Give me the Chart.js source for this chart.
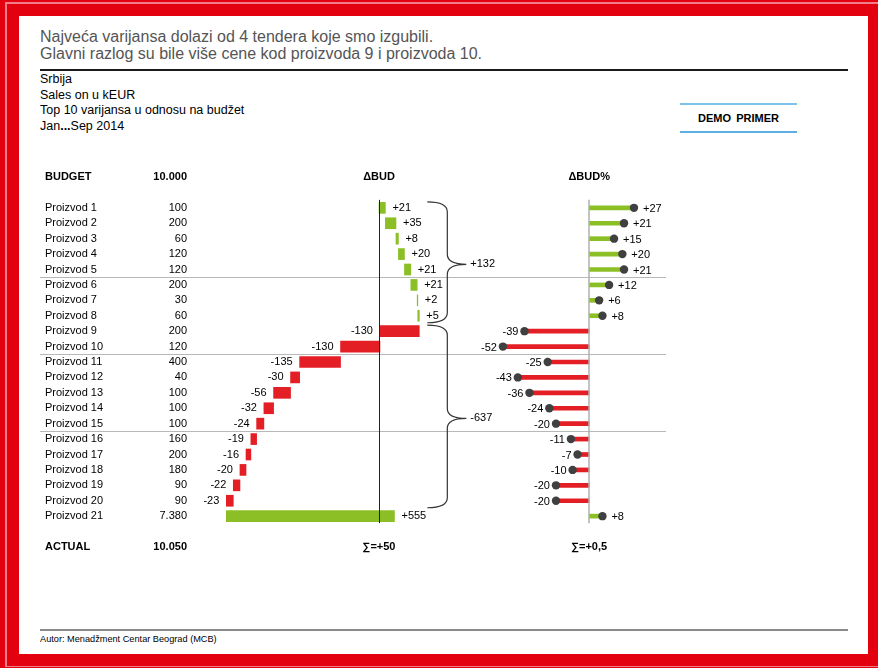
<!DOCTYPE html>
<html><head><meta charset="utf-8">
<script src="https://cdn.jsdelivr.net/npm/chart.js@4.4.1/dist/chart.umd.min.js"></script>
<style>
html,body{margin:0;padding:0;width:878px;height:668px;overflow:hidden;background:#e3000f;font-family:"Liberation Sans",Arial,sans-serif;}
#pink{position:absolute;left:5px;top:2px;right:0;bottom:1px;border-left:2px solid #f27d8a;border-top:2px solid #f27d8a;border-bottom:1px solid #f27d8a;}
#panel{position:absolute;left:19px;top:16px;width:849px;height:638px;background:#fff;}
.t{position:absolute;white-space:nowrap;}
#title{left:40px;top:29px;font-size:16px;color:#555;line-height:16.5px;}
#rule{position:absolute;left:40px;top:69px;width:808px;height:2px;background:#1a1a1a;}
#sub{left:40px;top:72px;font-size:12.5px;line-height:15.5px;color:#000;}
#demo{position:absolute;left:680px;top:103px;width:117px;height:26px;border-top:2px solid #7cc3ea;border-bottom:2px solid #5fb0e0;font-weight:bold;font-size:11px;text-align:center;line-height:26px;word-spacing:2px;}
#frule{position:absolute;left:40px;top:629px;width:808px;height:2px;background:#8a8a8a;}
#foot{left:40px;top:634px;font-size:9.2px;}
#wrap{position:absolute;left:0;top:0;width:878px;height:668px;}
</style></head>
<body>
<div id="pink"></div>
<div id="panel"></div>
<div class="t" id="title">Najveća varijansa dolazi od 4 tendera koje smo izgubili.<br>Glavni razlog su bile više cene kod proizvoda 9 i proizvoda 10.</div>
<div id="rule"></div>
<div class="t" id="sub">Srbija<br>Sales on u kEUR<br>Top 10 varijansa u odnosu na budžet<br>Jan<b>...</b>Sep 2014</div>
<div id="demo">DEMO PRIMER</div>
<div id="frule"></div>
<div class="t" id="foot">Autor: Menadžment Centar Beograd (MCB)</div>
<div id="wrap"><canvas id="c" width="878" height="668"></canvas></div>
<script>
// ---- data ----
const products = ['Proizvod 1','Proizvod 2','Proizvod 3','Proizvod 4','Proizvod 5','Proizvod 6','Proizvod 7','Proizvod 8','Proizvod 9','Proizvod 10','Proizvod 11','Proizvod 12','Proizvod 13','Proizvod 14','Proizvod 15','Proizvod 16','Proizvod 17','Proizvod 18','Proizvod 19','Proizvod 20','Proizvod 21'];
const budget = [100,200,60,120,120,200,30,60,200,120,400,40,100,100,100,160,200,180,90,90,7380];
const dBud = [21,35,8,20,21,21,2,5,-130,-130,-135,-30,-56,-32,-24,-19,-16,-20,-22,-23,555];
const dBudPct = [27,21,15,20,21,12,6,8,-39,-52,-25,-43,-36,-24,-20,-11,-7,-10,-20,-20,8];
const headerRow = ['BUDGET','10.000','ΔBUD','ΔBUD%'];
const footerRow = ['ACTUAL','10.050','∑=+50','∑=+0,5'];
const groups = [{from:0,to:7,label:'+132'},{from:8,to:19,label:'-637'}];
const separatorsAfter = [4,9,14];

const GREEN = '#8cbf26', RED = '#e31e24', DOT = '#404040';
const FONT = '"Liberation Sans", Arial, sans-serif';
const OFF = 2;
const rowLabels = [headerRow[0], ''].concat(products, ['', footerRow[0]]);

let cum = 0;
const wf = rowLabels.map(() => null);
const wfCol = rowLabels.map(() => GREEN);
dBud.forEach((v, i) => { wf[i + OFF] = [cum, cum + v]; wfCol[i + OFF] = v >= 0 ? GREEN : RED; cum += v; });
const stick = rowLabels.map(() => null);
const dots = rowLabels.map(() => null);
const stickCol = rowLabels.map(() => GREEN);
dBudPct.forEach((v, i) => { stick[i + OFF] = [0, v]; dots[i + OFF] = v; stickCol[i + OFF] = v >= 0 ? GREEN : RED; });

function fmt(n) { return String(n).replace(/\B(?=(\d{3})+(?!\d))/g, '.'); }
function sgn(v) { return (v >= 0 ? '+' : '-') + Math.abs(v); }

const deco = {
  id: 'deco',
  beforeDatasetsDraw(chart) {
    const ctx = chart.ctx, y = chart.scales.y, ca = chart.chartArea;
    ctx.save();
    ctx.strokeStyle = '#b8b8b8'; ctx.lineWidth = 1;
    separatorsAfter.forEach(i => {
      const py = Math.round((y.getPixelForValue(i + OFF) + y.getPixelForValue(i + 1 + OFF)) / 2) + 0.5;
      ctx.beginPath(); ctx.moveTo(ca.left, py); ctx.lineTo(666, py); ctx.stroke();
    });
    ctx.restore();
  },
  afterDatasetsDraw(chart) {
    const ctx = chart.ctx, y = chart.scales.y, x = chart.scales.x, x2 = chart.scales.x2;
    ctx.save();
    const top = y.getPixelForValue(OFF) - 8, bot = y.getPixelForValue(OFF + products.length - 1) + 7;
    // axis lines
    ctx.strokeStyle = '#b0b0b0'; ctx.lineWidth = 1.5;
    let px = Math.round(x2.getPixelForValue(0));
    ctx.beginPath(); ctx.moveTo(px, top); ctx.lineTo(px, bot); ctx.stroke();
    ctx.strokeStyle = '#222'; ctx.lineWidth = 1;
    px = Math.round(x.getPixelForValue(0)) + 0.5;
    ctx.beginPath(); ctx.moveTo(px, top); ctx.lineTo(px, bot); ctx.stroke();

    ctx.textBaseline = 'middle';
    ctx.fillStyle = '#000';
    // table
    ctx.font = '11px ' + FONT;
    products.forEach((p, i) => {
      const py = y.getPixelForValue(i + OFF);
      ctx.textAlign = 'left'; ctx.fillText(p, 45, py);
      ctx.textAlign = 'right'; ctx.fillText(fmt(budget[i]), 187, py);
    });
    ctx.font = 'bold 11px ' + FONT;
    [[headerRow, 0], [footerRow, rowLabels.length - 1]].forEach(([r, k]) => {
      const py = y.getPixelForValue(k);
      ctx.textAlign = 'left'; ctx.fillText(r[0], 45, py);
      ctx.textAlign = 'right'; ctx.fillText(r[1], 187, py);
      ctx.textAlign = 'center';
      ctx.fillText(r[2], x.getPixelForValue(0), py);
      ctx.fillText(r[3], x2.getPixelForValue(0), py);
    });
    // waterfall labels
    ctx.font = '11px ' + FONT;
    dBud.forEach((v, i) => {
      const [s, e] = wf[i + OFF];
      const py = y.getPixelForValue(i + OFF);
      if (v >= 0) { ctx.textAlign = 'left'; ctx.fillText(sgn(v), x.getPixelForValue(e) + 7, py); }
      else { ctx.textAlign = 'right'; ctx.fillText(sgn(v), x.getPixelForValue(e) - 7, py); }
    });
    // lollipop labels
    dBudPct.forEach((v, i) => {
      const py = y.getPixelForValue(i + OFF) + 1;
      if (v >= 0) { ctx.textAlign = 'left'; ctx.fillText(sgn(v), x2.getPixelForValue(v) + 9, py); }
      else { ctx.textAlign = 'right'; ctx.fillText(sgn(v), x2.getPixelForValue(v) - 6, py); }
    });
    // braces
    let maxC = 0, c = 0; dBud.forEach(v => { c += v; maxC = Math.max(maxC, c); });
    const x0 = x.getPixelForValue(maxC) + 8, xs = x0 + 20, xp = x0 + 39;
    ctx.strokeStyle = '#333'; ctx.lineWidth = 1.2;
    groups.forEach(g => {
      const t = y.getPixelForValue(g.from + OFF) - 6, b = y.getPixelForValue(g.to + OFF) + 7;
      const mid = (t + b) / 2 + 2, r = 10;
      ctx.beginPath();
      ctx.moveTo(x0, t);
      ctx.quadraticCurveTo(xs, t, xs, t + r);
      ctx.lineTo(xs, mid - r);
      ctx.quadraticCurveTo(xs, mid, xp, mid);
      ctx.moveTo(xs, mid + r);
      ctx.quadraticCurveTo(xs, mid, xp, mid);
      ctx.moveTo(xs, mid + r);
      ctx.lineTo(xs, b - r);
      ctx.quadraticCurveTo(xs, b, x0, b);
      ctx.stroke();
      ctx.textAlign = 'left';
      ctx.fillText(g.label, xp + 4, mid);
    });
    ctx.restore();
  }
};

new Chart(document.getElementById('c'), {
  type: 'bar',
  data: {
    labels: rowLabels,
    datasets: [
      { type: 'line', indexAxis: 'y', data: dots, xAxisID: 'x2', yAxisID: 'y', showLine: false,
        pointRadius: 4.2, pointBackgroundColor: DOT, pointBorderWidth: 0, order: 0 },
      { type: 'bar', data: wf, xAxisID: 'x', yAxisID: 'y', backgroundColor: wfCol,
        barThickness: 11, grouped: false, order: 2 },
      { type: 'bar', data: stick, xAxisID: 'x2', yAxisID: 'y', backgroundColor: stickCol,
        barThickness: 4, grouped: false, order: 1 }
    ]
  },
  options: {
    indexAxis: 'y',
    responsive: false,
    animation: false,
    layout: { padding: { left: 40, right: 30, top: 177, bottom: 121 } },
    plugins: { legend: { display: false }, tooltip: { enabled: false } },
    scales: {
      y: { type: 'category', offset: false, display: false },
      x: { type: 'linear', min: -1119, max: 1548, display: false },
      x2: { type: 'linear', min: -331, max: 156, display: false }
    }
  },
  plugins: [deco]
});
</script>
</body></html>
